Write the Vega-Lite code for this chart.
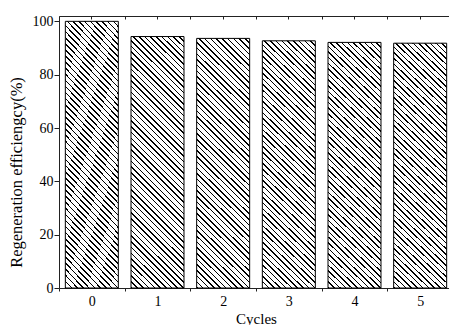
{
 "$schema": "https://vega.github.io/schema/vega-lite/v6.json",
 "width": 390,
 "height": 272,
 "autosize": {"type": "none"},
 "padding": {"left": 59, "top": 16, "right": 0, "bottom": 37},
 "background": "white",
 "data": {"values": [
  {"cycle": "0", "eff": 100},
  {"cycle": "1", "eff": 94.3},
  {"cycle": "2", "eff": 93.6},
  {"cycle": "3", "eff": 92.7},
  {"cycle": "4", "eff": 92.1},
  {"cycle": "5", "eff": 91.8}
 ]},
 "config": {
  "view": {"stroke": null},
  "font": "Liberation Serif",
  "axis": {"labelFont": "Liberation Serif", "titleFont": "Liberation Serif", "labelColor": "#000", "titleColor": "#000", "domainColor": "#222", "tickColor": "#222", "titleFontWeight": "normal", "grid": false}
 },
 "resolve": {"axis": {"x": "independent", "y": "independent"}},
 "layer": [
  {
   "mark": {"type": "bar", "stroke": "#000", "strokeWidth": 1, "width": {"band": 0.807},
    "fill": {"gradient": "linear", "x1": 0, "y1": 1, "x2": 0.244, "y2": -0.1592, "stops": [
{"offset":0,"color":"#000"},{"offset":0.005,"color":"#000"},{"offset":0.005,"color":"#fff"},{"offset":0.0189,"color":"#fff"},
{"offset":0.0189,"color":"#000"},{"offset":0.0239,"color":"#000"},{"offset":0.0239,"color":"#fff"},{"offset":0.0377,"color":"#fff"},
{"offset":0.0377,"color":"#000"},{"offset":0.0427,"color":"#000"},{"offset":0.0427,"color":"#fff"},{"offset":0.0566,"color":"#fff"},
{"offset":0.0566,"color":"#000"},{"offset":0.0616,"color":"#000"},{"offset":0.0616,"color":"#fff"},{"offset":0.0755,"color":"#fff"},
{"offset":0.0755,"color":"#000"},{"offset":0.0805,"color":"#000"},{"offset":0.0805,"color":"#fff"},{"offset":0.0943,"color":"#fff"},
{"offset":0.0943,"color":"#000"},{"offset":0.0993,"color":"#000"},{"offset":0.0993,"color":"#fff"},{"offset":0.1132,"color":"#fff"},
{"offset":0.1132,"color":"#000"},{"offset":0.1182,"color":"#000"},{"offset":0.1182,"color":"#fff"},{"offset":0.1321,"color":"#fff"},
{"offset":0.1321,"color":"#000"},{"offset":0.1371,"color":"#000"},{"offset":0.1371,"color":"#fff"},{"offset":0.1509,"color":"#fff"},
{"offset":0.1509,"color":"#000"},{"offset":0.1559,"color":"#000"},{"offset":0.1559,"color":"#fff"},{"offset":0.1698,"color":"#fff"},
{"offset":0.1698,"color":"#000"},{"offset":0.1748,"color":"#000"},{"offset":0.1748,"color":"#fff"},{"offset":0.1887,"color":"#fff"},
{"offset":0.1887,"color":"#000"},{"offset":0.1937,"color":"#000"},{"offset":0.1937,"color":"#fff"},{"offset":0.2075,"color":"#fff"},
{"offset":0.2075,"color":"#000"},{"offset":0.2125,"color":"#000"},{"offset":0.2125,"color":"#fff"},{"offset":0.2264,"color":"#fff"},
{"offset":0.2264,"color":"#000"},{"offset":0.2314,"color":"#000"},{"offset":0.2314,"color":"#fff"},{"offset":0.2453,"color":"#fff"},
{"offset":0.2453,"color":"#000"},{"offset":0.2503,"color":"#000"},{"offset":0.2503,"color":"#fff"},{"offset":0.2642,"color":"#fff"},
{"offset":0.2642,"color":"#000"},{"offset":0.2692,"color":"#000"},{"offset":0.2692,"color":"#fff"},{"offset":0.2830,"color":"#fff"},
{"offset":0.2830,"color":"#000"},{"offset":0.2880,"color":"#000"},{"offset":0.2880,"color":"#fff"},{"offset":0.3019,"color":"#fff"},
{"offset":0.3019,"color":"#000"},{"offset":0.3069,"color":"#000"},{"offset":0.3069,"color":"#fff"},{"offset":0.3208,"color":"#fff"},
{"offset":0.3208,"color":"#000"},{"offset":0.3258,"color":"#000"},{"offset":0.3258,"color":"#fff"},{"offset":0.3396,"color":"#fff"},
{"offset":0.3396,"color":"#000"},{"offset":0.3446,"color":"#000"},{"offset":0.3446,"color":"#fff"},{"offset":0.3585,"color":"#fff"},
{"offset":0.3585,"color":"#000"},{"offset":0.3635,"color":"#000"},{"offset":0.3635,"color":"#fff"},{"offset":0.3774,"color":"#fff"},
{"offset":0.3774,"color":"#000"},{"offset":0.3824,"color":"#000"},{"offset":0.3824,"color":"#fff"},{"offset":0.3962,"color":"#fff"},
{"offset":0.3962,"color":"#000"},{"offset":0.4012,"color":"#000"},{"offset":0.4012,"color":"#fff"},{"offset":0.4151,"color":"#fff"},
{"offset":0.4151,"color":"#000"},{"offset":0.4201,"color":"#000"},{"offset":0.4201,"color":"#fff"},{"offset":0.4340,"color":"#fff"},
{"offset":0.4340,"color":"#000"},{"offset":0.4390,"color":"#000"},{"offset":0.4390,"color":"#fff"},{"offset":0.4528,"color":"#fff"},
{"offset":0.4528,"color":"#000"},{"offset":0.4578,"color":"#000"},{"offset":0.4578,"color":"#fff"},{"offset":0.4717,"color":"#fff"},
{"offset":0.4717,"color":"#000"},{"offset":0.4767,"color":"#000"},{"offset":0.4767,"color":"#fff"},{"offset":0.4906,"color":"#fff"},
{"offset":0.4906,"color":"#000"},{"offset":0.4956,"color":"#000"},{"offset":0.4956,"color":"#fff"},{"offset":0.5094,"color":"#fff"},
{"offset":0.5094,"color":"#000"},{"offset":0.5144,"color":"#000"},{"offset":0.5144,"color":"#fff"},{"offset":0.5283,"color":"#fff"},
{"offset":0.5283,"color":"#000"},{"offset":0.5333,"color":"#000"},{"offset":0.5333,"color":"#fff"},{"offset":0.5472,"color":"#fff"},
{"offset":0.5472,"color":"#000"},{"offset":0.5522,"color":"#000"},{"offset":0.5522,"color":"#fff"},{"offset":0.5660,"color":"#fff"},
{"offset":0.5660,"color":"#000"},{"offset":0.5710,"color":"#000"},{"offset":0.5710,"color":"#fff"},{"offset":0.5849,"color":"#fff"},
{"offset":0.5849,"color":"#000"},{"offset":0.5899,"color":"#000"},{"offset":0.5899,"color":"#fff"},{"offset":0.6038,"color":"#fff"},
{"offset":0.6038,"color":"#000"},{"offset":0.6088,"color":"#000"},{"offset":0.6088,"color":"#fff"},{"offset":0.6226,"color":"#fff"},
{"offset":0.6226,"color":"#000"},{"offset":0.6276,"color":"#000"},{"offset":0.6276,"color":"#fff"},{"offset":0.6415,"color":"#fff"},
{"offset":0.6415,"color":"#000"},{"offset":0.6465,"color":"#000"},{"offset":0.6465,"color":"#fff"},{"offset":0.6604,"color":"#fff"},
{"offset":0.6604,"color":"#000"},{"offset":0.6654,"color":"#000"},{"offset":0.6654,"color":"#fff"},{"offset":0.6792,"color":"#fff"},
{"offset":0.6792,"color":"#000"},{"offset":0.6842,"color":"#000"},{"offset":0.6842,"color":"#fff"},{"offset":0.6981,"color":"#fff"},
{"offset":0.6981,"color":"#000"},{"offset":0.7031,"color":"#000"},{"offset":0.7031,"color":"#fff"},{"offset":0.7170,"color":"#fff"},
{"offset":0.7170,"color":"#000"},{"offset":0.7220,"color":"#000"},{"offset":0.7220,"color":"#fff"},{"offset":0.7358,"color":"#fff"},
{"offset":0.7358,"color":"#000"},{"offset":0.7408,"color":"#000"},{"offset":0.7408,"color":"#fff"},{"offset":0.7547,"color":"#fff"},
{"offset":0.7547,"color":"#000"},{"offset":0.7597,"color":"#000"},{"offset":0.7597,"color":"#fff"},{"offset":0.7736,"color":"#fff"},
{"offset":0.7736,"color":"#000"},{"offset":0.7786,"color":"#000"},{"offset":0.7786,"color":"#fff"},{"offset":0.7925,"color":"#fff"},
{"offset":0.7925,"color":"#000"},{"offset":0.7975,"color":"#000"},{"offset":0.7975,"color":"#fff"},{"offset":0.8113,"color":"#fff"},
{"offset":0.8113,"color":"#000"},{"offset":0.8163,"color":"#000"},{"offset":0.8163,"color":"#fff"},{"offset":0.8302,"color":"#fff"},
{"offset":0.8302,"color":"#000"},{"offset":0.8352,"color":"#000"},{"offset":0.8352,"color":"#fff"},{"offset":0.8491,"color":"#fff"},
{"offset":0.8491,"color":"#000"},{"offset":0.8541,"color":"#000"},{"offset":0.8541,"color":"#fff"},{"offset":0.8679,"color":"#fff"},
{"offset":0.8679,"color":"#000"},{"offset":0.8729,"color":"#000"},{"offset":0.8729,"color":"#fff"},{"offset":0.8868,"color":"#fff"},
{"offset":0.8868,"color":"#000"},{"offset":0.8918,"color":"#000"},{"offset":0.8918,"color":"#fff"},{"offset":0.9057,"color":"#fff"},
{"offset":0.9057,"color":"#000"},{"offset":0.9107,"color":"#000"},{"offset":0.9107,"color":"#fff"},{"offset":0.9245,"color":"#fff"},
{"offset":0.9245,"color":"#000"},{"offset":0.9295,"color":"#000"},{"offset":0.9295,"color":"#fff"},{"offset":0.9434,"color":"#fff"},
{"offset":0.9434,"color":"#000"},{"offset":0.9484,"color":"#000"},{"offset":0.9484,"color":"#fff"},{"offset":0.9623,"color":"#fff"},
{"offset":0.9623,"color":"#000"},{"offset":0.9673,"color":"#000"},{"offset":0.9673,"color":"#fff"},{"offset":0.9811,"color":"#fff"},
{"offset":0.9811,"color":"#000"},{"offset":0.9861,"color":"#000"},{"offset":0.9861,"color":"#fff"},{"offset":1,"color":"#fff"}
    ]}
   },
   "encoding": {
    "x": {"field": "cycle", "type": "ordinal",
     "scale": {"type": "band", "paddingInner": 0, "paddingOuter": 0, "range": [0, 394]},
     "axis": {"orient": "bottom", "title": "Cycles", "tickBand": "extent", "tickSize": 3, "labelAngle": 0, "labelFontSize": 14, "labelBaseline": "alphabetic", "labelPadding": 14, "titleFontSize": 15, "titleBaseline": "alphabetic", "titleY": 35, "domainWidth": 1}},
    "y": {"field": "eff", "type": "quantitative",
     "scale": {"domain": [0, 102], "nice": false},
     "axis": {"values": [0, 20, 40, 60, 80, 100], "tickSize": 5, "labelPadding": 1, "labelFontSize": 14, "title": "Regeneration efficiengcy(%)", "titleFontSize": 16.5, "titleX": -35, "titleY": 156}}
   }
  },
  {
   "mark": {"type": "bar", "opacity": 0, "width": {"band": 0.807}},
   "encoding": {
    "x": {"field": "cycle", "type": "ordinal",
     "axis": {"orient": "top", "tickBand": "extent", "tickSize": -3, "labels": false, "title": null, "domainWidth": 1}},
    "y": {"field": "eff", "type": "quantitative",
     "axis": {"values": [10, 30, 50, 70, 90], "tickSize": 3, "labels": false, "domain": false, "title": null}}
   }
  },
  {
   "mark": {"type": "bar", "opacity": 0, "width": {"band": 0.807}},
   "encoding": {
    "x": {"field": "cycle", "type": "ordinal",
     "axis": {"orient": "top", "tickSize": -3, "labels": false, "domain": false, "title": null}},
    "y": {"field": "eff", "type": "quantitative", "axis": null}
   }
  }
 ]
}
